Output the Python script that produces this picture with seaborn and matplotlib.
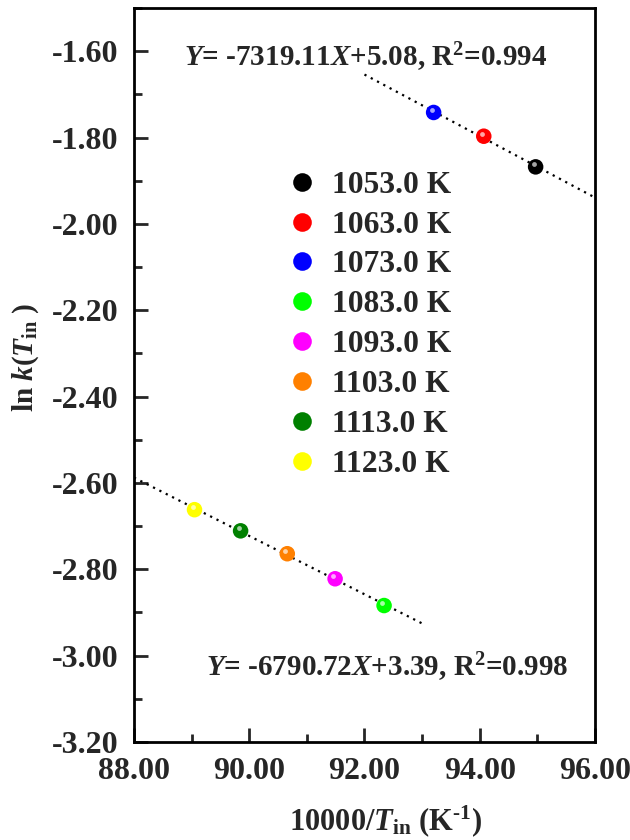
import numpy as np
import pandas as pd
import matplotlib
matplotlib.use("Agg")
import matplotlib.pyplot as plt
import matplotlib.transforms as mtransforms
from matplotlib.ticker import MultipleLocator, FormatStrFormatter
import seaborn as sns

# values
temps = ["1053.0 K", "1063.0 K", "1073.0 K", "1083.0 K",
         "1093.0 K", "1103.0 K", "1113.0 K", "1123.0 K"]
inv_temp = [94.97, 94.07, 93.20, 92.34, 91.49, 90.66, 89.85, 89.05]
ln_k = [-1.868, -1.797, -1.742, -2.884, -2.822, -2.764, -2.711, -2.662]
branch = ["high", "high", "high", "low", "low", "low", "low", "low"]
colors = ["#000000", "#FF0000", "#0000FF", "#00FF00",
          "#FF00FF", "#FF8000", "#008000", "#FFFF00"]

fit_ranges = {"high": (92.0, 96.0), "low": (88.0, 93.0)}
fit_texts = {
    "high": r"$\mathit{Y}$= -7319.11$\mathit{X}$+5.08, R$^{2}$=0.994",
    "low": r"$\mathit{Y}$= -6790.72$\mathit{X}$+3.39, R$^{2}$=0.998",
}
text_pos = {"high": (88.86, -1.614), "low": (89.25, -3.027)}

df = pd.DataFrame({"x": inv_temp, "y": ln_k, "T": temps, "branch": branch})

sns.set_theme(style="ticks")
plt.rcParams["font.family"] = ["Liberation Serif", "DejaVu Serif"]
plt.rcParams["font.weight"] = "bold"
plt.rcParams["mathtext.fontset"] = "custom"
plt.rcParams["mathtext.rm"] = "Liberation Serif:bold"
plt.rcParams["mathtext.it"] = "Liberation Serif:italic:bold"
plt.rcParams["mathtext.bf"] = "Liberation Serif:bold"

fig = plt.figure(figsize=(6.3, 8.4), dpi=100)
ax = fig.add_axes([0.2127, 0.1167, 0.9444 - 0.2127, 0.9905 - 0.1167])

# dotted linear fits
for b, (x0, x1) in fit_ranges.items():
    sub = df[df["branch"] == b]
    slope, icpt = np.polyfit(sub["x"], sub["y"], 1)
    xs = np.linspace(x0, x1, 50)
    ax.plot(xs, slope * xs + icpt, color="black", lw=1.6,
            linestyle=(0, (1, 2.2)), zorder=1)
    tx, ty = text_pos[b]
    ax.text(tx, ty, fit_texts[b], fontsize=21, fontweight="bold",
            ha="left", va="center")

palette = dict(zip(temps, colors))
sns.scatterplot(data=df, x="x", y="y", hue="T", hue_order=temps,
                palette=palette, s=125, linewidth=0, ax=ax, zorder=3)

# small highlight to give the balls a shaded look
shift = mtransforms.ScaledTranslation(-2 / 100, 2.5 / 100, fig.dpi_scale_trans)
ax.scatter(df["x"], df["y"], s=12, color="white", alpha=0.65,
           linewidth=0, transform=ax.transData + shift, zorder=4)

handles, labels = ax.get_legend_handles_labels()
ax.legend(handles, labels, loc="upper left",
          bbox_to_anchor=(0.455, 0.797), bbox_transform=fig.transFigure,
          frameon=False, handlelength=1.0, handletextpad=0.45,
          labelspacing=0.345, borderpad=0, borderaxespad=0, markerscale=1.2,
          prop={"weight": "bold", "size": 22.7})

ax.set_xlim(88, 96)
ax.set_ylim(-3.2, -1.5)
ax.xaxis.set_major_locator(MultipleLocator(2))
ax.xaxis.set_minor_locator(MultipleLocator(1))
ax.yaxis.set_major_locator(MultipleLocator(0.2))
ax.yaxis.set_minor_locator(MultipleLocator(0.1))
ax.xaxis.set_major_formatter(FormatStrFormatter("%.2f"))
ax.yaxis.set_major_formatter(FormatStrFormatter("%.2f"))
ax.tick_params(which="both", direction="in", width=2, top=False, right=False,
               labelsize=23, pad=11)
ax.tick_params(which="major", length=10)
ax.tick_params(which="minor", length=6)
for lab in ax.get_xticklabels() + ax.get_yticklabels():
    lab.set_fontweight("bold")
for sp in ax.spines.values():
    sp.set_linewidth(2)
    sp.set_color("black")

ax.set_xlabel(r"10000/$\mathit{T}_{\rm in}$ (K$^{\text{-}1}$)", fontsize=22,
              fontweight="bold", va="top")
ax.set_ylabel(r"ln $\mathit{k}$($\mathit{T}_{\rm in}$ )", fontsize=21,
              fontweight="bold")
ax.xaxis.set_label_coords(0.545, -0.084)
ax.yaxis.set_label_coords(-0.202, 0.5245)

fig.savefig("out.png", dpi=100)
